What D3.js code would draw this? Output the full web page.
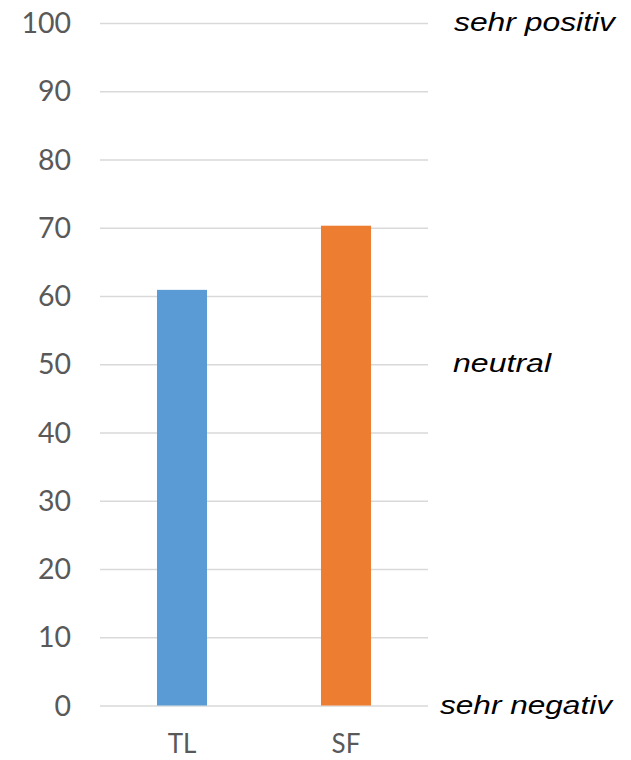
<!DOCTYPE html>
<html><head><meta charset="utf-8">
<script src="https://cdn.jsdelivr.net/npm/d3@7"></script>
<style>body{margin:0;background:#fff;}</style>
</head><body>
<script>
const categories = ["TL", "SF"];
const values = [60.9, 70.3];
const colors = ["#5B9BD5", "#ED7D31"];
const yTicks = [0,10,20,30,40,50,60,70,80,90,100];
const sideLabels = [{text:"sehr positiv", v:100}, {text:"neutral", v:50}, {text:"sehr negativ", v:0}];

const W = 631, H = 760;
const svg = d3.select("body").append("svg").attr("width", W).attr("height", H);
const x = d3.scaleBand().domain(categories).range([100, 428]).paddingInner(0.695).paddingOuter(0.3475);
const y = d3.scaleLinear().domain([0, 100]).range([705.5, 23]);

const grid = svg.append("g").attr("transform", "translate(100,0)")
  .call(d3.axisLeft(y).tickValues(yTicks).tickSize(-328).tickFormat(""));
grid.select(".domain").remove();
grid.selectAll("line").attr("stroke", "#d9d9d9").attr("stroke-width", 1.3);

const yAx = svg.append("g").attr("transform", "translate(71,0)")
  .call(d3.axisLeft(y).tickValues(yTicks).tickSize(0).tickPadding(0));
yAx.select(".domain").remove();
yAx.selectAll("text").attr("font-family", "Lato, 'Open Sans', sans-serif").attr("font-size", 28.5).attr("fill", "#595959").attr("dy", "0.34em");

svg.selectAll("rect.bar").data(categories).enter().append("rect")
  .attr("x", d => x(d)).attr("width", x.bandwidth())
  .attr("y", (d,i) => y(values[i])).attr("height", (d,i) => y(0) - y(values[i]))
  .attr("fill", (d,i) => colors[i]);

const xAx = svg.append("g").attr("transform", "translate(0,753)")
  .call(d3.axisBottom(x).tickSize(0).tickPadding(0));
xAx.select(".domain").remove();
xAx.selectAll("text").attr("font-family", "Lato, 'Open Sans', sans-serif").attr("font-size", 26).attr("fill", "#595959").attr("dy", 0);

const sideX = {"sehr positiv": 454, "neutral": 453, "sehr negativ": 440};
const sideLen = {"sehr positiv": 161, "neutral": 98, "sehr negativ": 172};
svg.selectAll("text.side").data(sideLabels).enter().append("text")
  .attr("class", "side")
  .attr("x", d => sideX[d.text])
  .attr("y", d => y(d.v) + 8)
  .attr("font-family", "'Liberation Sans', Arial, sans-serif")
  .attr("font-style", "italic").attr("font-size", 26).attr("fill", "#000")
  .attr("textLength", d => sideLen[d.text]).attr("lengthAdjust", "spacingAndGlyphs")
  .text(d => d.text);
</script>
</body></html>
